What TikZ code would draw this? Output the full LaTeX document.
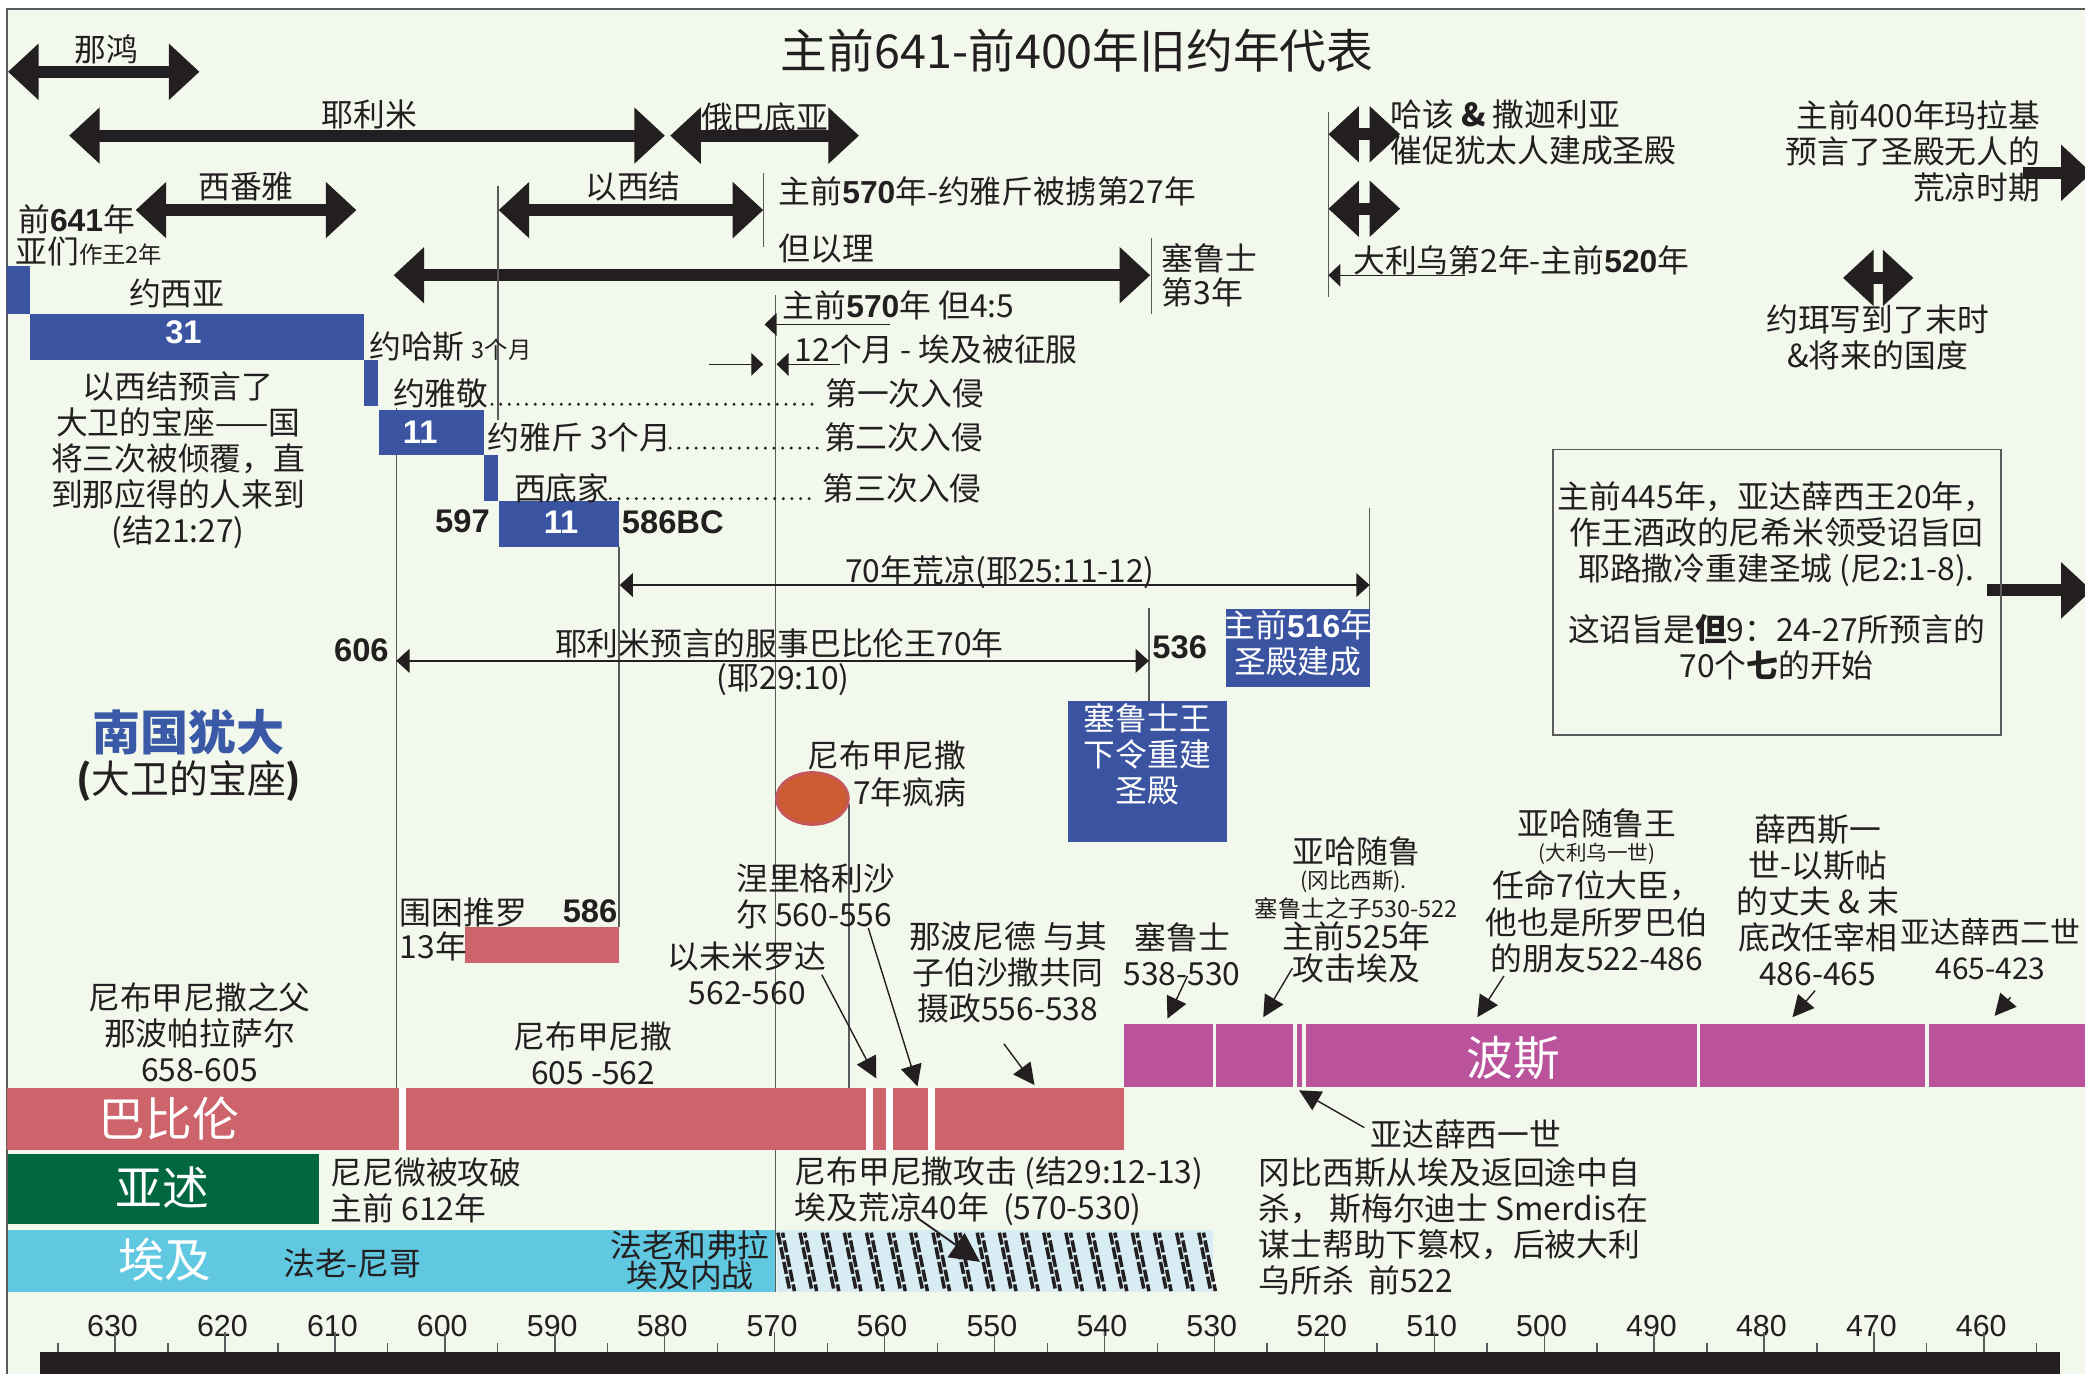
\documentclass[tikz,border=0pt]{standalone}
\usepackage{fontspec}
\setmainfont{Noto Sans CJK SC}
\newfontfamily\numf{Liberation Sans}
\usetikzlibrary{arrows.meta}
\definecolor{bg}{RGB}{243,248,237}
\definecolor{ink}{RGB}{35,31,32}
\definecolor{jblue}{RGB}{58,84,162}
\definecolor{tblue}{RGB}{58,90,168}
\definecolor{babred}{RGB}{205,100,108}
\definecolor{persia}{RGB}{186,82,156}
\definecolor{assyr}{RGB}{0,103,64}
\definecolor{egypt}{RGB}{96,200,224}
\definecolor{hatchbg}{RGB}{216,236,244}
\definecolor{circ}{RGB}{205,92,50}
\definecolor{circb}{RGB}{196,88,92}
\definecolor{rule}{RGB}{90,90,90}
\newcommand\bn[1]{{\numf\bfseries #1}}
\newcommand\fz[2]{\fontsize{#1}{#2}\selectfont}
\begin{document}
\begin{tikzpicture}[x=0.1mm,y=-0.1mm,
  every node/.style={inner sep=0pt,text=ink},
  T/.style={font=\fz{6.8pt}{7.7pt},align=center},
  TL/.style={font=\fz{6.8pt}{7.7pt},align=left},
  TR/.style={font=\fz{6.8pt}{7.7pt},align=right},
  TS/.style={font=\fz{4.6pt}{5.5pt}},
  W/.style={font=\fz{6.8pt}{7.7pt},align=center,text=white},
  BAR/.style={font=\fz{10pt}{11pt},text=white},
  bigarr/.style={draw=ink,line width=0.9mm,{Triangle[length=2.3mm,width=4.1mm]}-{Triangle[length=2.3mm,width=4.1mm]}},
  rarr/.style={draw=ink,line width=0.9mm,-{Triangle[length=2.3mm,width=4.1mm]}},
  sarr/.style={draw=ink,line width=0.3pt,-{Triangle[length=0.9mm,width=1.7mm]}},
  parr/.style={draw=ink,line width=0.3pt,-{Triangle[length=1.6mm,width=1.6mm]}},
  vline/.style={draw=rule,line width=0.3pt},
  leader/.style={draw=ink,line width=0.7pt,line cap=round,dash pattern=on 0pt off 1.85pt},
  tick/.style={draw=rule,line width=0.3pt},
  hatchline/.style={draw=ink,line width=0.75pt,dash pattern=on 2.6pt off 0.6pt}]
\useasboundingbox (0,0) rectangle (1568,1033);
\fill[white] (0,0) rectangle (1568,1033);
\fill[bg] (5,7) rectangle (1568,1033);
\draw[rule,line width=0.4pt] (5,1033) -- (5,7) -- (1568,7);

% title
\node (title) at (810,38) {\fz{10pt}{12pt}主前641-前400年旧约年代表};

% big prophet arrows
\coordinate (nahL) at (6,54);   \coordinate (nahR) at (150,54);
\coordinate (jerL) at (52,102); \coordinate (jerR) at (500,102);
\coordinate (obaL) at (504,102);\coordinate (obaR) at (646,102);
\coordinate (zepL) at (102,158);\coordinate (zepR) at (268,158);
\coordinate (ezeL) at (375,158);\coordinate (ezeR) at (574,158);
\coordinate (danL) at (296,207);\coordinate (danR) at (865,207);
\coordinate (hagL) at (999,101);\coordinate (hagR) at (1053,101);
\coordinate (zecL) at (999,157);\coordinate (zecR) at (1053,157);
\coordinate (joeL) at (1386,209);\coordinate (joeR) at (1439,209);
\coordinate (malS) at (1521,130);\coordinate (malE) at (1573,130);
\coordinate (boxS) at (1494,444);\coordinate (boxE) at (1573,444);
\draw[bigarr] (nahL) -- (nahR);
\draw[bigarr] (jerL) -- (jerR);
\draw[bigarr] (obaL) -- (obaR);
\draw[bigarr] (zepL) -- (zepR);
\draw[bigarr] (ezeL) -- (ezeR);
\draw[bigarr] (danL) -- (danR);
\draw[bigarr] (hagL) -- (hagR);
\draw[bigarr] (zecL) -- (zecR);
\draw[bigarr] (joeL) -- (joeR);
\draw[rarr] (malS) -- (malE);
\draw[rarr] (boxS) -- (boxE);

\node[T] (nah) at (80,37) {那鸿};
\node[T] (jer) at (278,86) {耶利米};
\node[T] (oba) at (575,88) {俄巴底亚};
\node[T] (zep) at (185,140) {西番雅};
\node[T] (eze) at (476,140) {以西结};
\node[T,anchor=west] (dan) at (585,187) {但以理};
\node[T,anchor=west] (jc27) at (585,144) {主前\bn{570}年-约雅斤被掳第27年};
\node[TL,anchor=west,font=\fz{6.8pt}{6pt}] (cy3) at (873,207) {塞鲁士\\第3年};
\node[T,anchor=west] (d45) at (588,230) {主前\bn{570}年 但4:5};
\node[T,anchor=west] (m12) at (597,263) {12个月 - 埃及被征服};

% vertical guide lines
\coordinate (v1a) at (574,130); \coordinate (v1b) at (574,186);
\coordinate (v2a) at (866,179); \coordinate (v2b) at (866,236);
\coordinate (v3a) at (583,222); \coordinate (v3b) at (583,972);
\coordinate (v4a) at (374.5,140); \coordinate (v4b) at (374.5,316);
\coordinate (v5a) at (298,307); \coordinate (v5b) at (298,818);
\coordinate (v6a) at (465.5,411); \coordinate (v6b) at (465.5,697);
\coordinate (v7a) at (1030,382); \coordinate (v7b) at (1030,458);
\coordinate (v8a) at (864,457); \coordinate (v8b) at (864,527);
\coordinate (v9a) at (638.5,605); \coordinate (v9b) at (638.5,818);
\coordinate (v10a) at (999,84); \coordinate (v10b) at (999,223);
\foreach \a/\b in {v1a/v1b,v2a/v2b,v3a/v3b,v4a/v4b,v5a/v5b,v6a/v6b,v7a/v7b,v8a/v8b,v9a/v9b,v10a/v10b}
  \draw[vline] (\a) -- (\b);

% small arrows near 570
\coordinate (d45s) at (669,244); \coordinate (d45t) at (575,244);
\draw[sarr] (d45s) -- (d45t);
\coordinate (m12a) at (533,274); \coordinate (m12b) at (574,274);
\coordinate (m12c) at (632,274); \coordinate (m12d) at (584,274);
\draw[sarr] (m12a) -- (m12b);
\draw[sarr] (m12c) -- (m12d);

% top left
\node[T,anchor=west] (b641) at (13,165) {前\bn{641}年};
\node[T,anchor=west] (amon) at (11,189) {亚们{\fz{5pt}{6pt}作王2年}};

% Judah kings blocks
\fill[jblue] (5,200) rectangle (22.5,236);
\fill[jblue] (22.5,236) rectangle (273.5,270.5);
\fill[jblue] (273.5,270.5) rectangle (284.5,305);
\fill[jblue] (285,308) rectangle (364,342);
\fill[jblue] (364,342) rectangle (374.5,377);
\fill[jblue] (375,377) rectangle (465.5,411);
\node[T] (josiah) at (133,221) {约西亚};
\node[font=\numf\bfseries\fz{7pt}{8pt},text=white] (n31) at (138,250) {31};
\node[font=\numf\bfseries\fz{7pt}{8pt},text=white] (n11a) at (316,325) {11};
\node[font=\numf\bfseries\fz{7pt}{8pt},text=white] (n11b) at (422,393) {11};
\node[T,anchor=west] (jehoahaz) at (277,261) {约哈斯 {\fz{5pt}{6pt}3个月}};
\node[T,anchor=west] (jehoiakim) at (295,296) {约雅敬};
\node[T,anchor=west] (inv1) at (620,296) {第一次入侵};
\node[T,anchor=west] (jehoiachin) at (366,329) {约雅斤 3个月};
\node[T,anchor=west] (inv2) at (619,329) {第二次入侵};
\node[T,anchor=west] (zedekiah) at (386,367) {西底家};
\node[T,anchor=west] (inv3) at (618,367) {第三次入侵};
\draw[leader] (370,304) -- (617,304);
\draw[leader] (504,337) -- (616,337);
\draw[leader] (459,375) -- (615,375);
\node[font=\numf\bfseries\fz{7pt}{8pt},anchor=east] (y597) at (369,392) {597};
\node[font=\numf\bfseries\fz{7pt}{8pt},anchor=west] (y586bc) at (467,393) {586BC};
\node[T] (ezeproph) at (134,346) {以西结预言了\\大卫的宝座——国\\将三次被倾覆，直\\到那应得的人来到\\(结21:27)};

% 70 years
\coordinate (d70a) at (466,440); \coordinate (d70b) at (1030,440);
\draw[draw=ink,line width=0.3pt,{Triangle[length=1mm,width=1.8mm]}-{Triangle[length=1mm,width=1.8mm]}] (d70a) -- (d70b);
\node[T] (d70) at (752,430) {70年荒凉(耶25:11-12)};
\coordinate (s70a) at (298,497); \coordinate (s70b) at (864,497);
\draw[draw=ink,line width=0.3pt,{Triangle[length=1mm,width=1.8mm]}-{Triangle[length=1mm,width=1.8mm]}] (s70a) -- (s70b);
\node[T] (s70) at (586,484) {耶利米预言的服事巴比伦王70年};
\node[T] (s70r) at (589,511) {(耶29:10)};
\node[font=\numf\bfseries\fz{7pt}{8pt},anchor=east] (y606) at (293,489) {606};
\node[font=\numf\bfseries\fz{7pt}{8pt},anchor=west] (y536) at (866,487) {536};

% blue boxes
\fill[jblue] (922,458) rectangle (1030,517);
\node[W] (t516) at (976,484) {主前\bn{516}年\\圣殿建成};
\fill[jblue] (803,527) rectangle (923,633);
\node[W] (cyrus) at (863,567) {塞鲁士王\\下令重建\\圣殿};

% Judah label
\node[font=\bfseries\fz{10.3pt}{11pt},text=tblue] (judah) at (142,551) {南国犹大};
\node[font=\fz{8.3pt}{9pt}] (throne) at (142,587) {\textbf{(}大卫的宝座\textbf{)}};

% Nebuchadnezzar madness
\fill[circ,draw=circb,line width=0.6pt] (611,600.5) ellipse [x radius=27, y radius=19.5];
\node[T] (neb7a) at (667,568) {尼布甲尼撒};
\node[T,anchor=west] (neb7b) at (641,596) {7年疯病};

% siege of Tyre
\fill[babred] (350,697) rectangle (465.5,724);
\node[T,anchor=west] (tyre) at (300,686) {围困推罗};
\node[font=\numf\bfseries\fz{7pt}{8pt},anchor=east] (y586) at (465,685) {586};
\node[T,anchor=west] (tyre13) at (300,712) {13年};

% Babylon kings labels
\node[TL,anchor=west] (nergal) at (553,674) {涅里格利沙\\尔 560-556};
\node[T] (evil) at (562,732) {以未米罗达\\562-560};
\node[T] (nabon) at (758,731) {那波尼德 与其\\子伯沙撒共同\\摄政556-538};
\node[T] (nabopol) at (150,776) {尼布甲尼撒之父\\那波帕拉萨尔\\658-605};
\node[T] (nebu) at (446,792) {尼布甲尼撒\\605 -562};

% Persian kings labels
\node[T] (cyr538) at (889,718) {塞鲁士\\538-530};
\node[T] (camb1) at (1020,640) {亚哈随鲁};
\node[TS] (camb2) at (1018,663) {(冈比西斯).};
\node[font=\fz{5pt}{6pt}] (camb3) at (1020,683) {塞鲁士之子530-522};
\node[T] (camb4) at (1020,704) {主前525年};
\node[T] (camb5) at (1020,728) {攻击埃及};
\node[T] (dar1) at (1201,619) {亚哈随鲁王};
\node[font=\fz{4.4pt}{5pt}] (dar2) at (1201,642) {(大利乌一世)};
\node[T] (dar3) at (1201,666) {任命7位大臣，};
\node[T] (dar4) at (1201,694) {他也是所罗巴伯};
\node[T] (dar5) at (1201,721) {的朋友522-486};
\node[T] (xerx) at (1367,677) {薛西斯一\\世-以斯帖\\的丈夫 \& 末\\底改任宰相\\486-465};
\node[font=\fz{6.4pt}{7.7pt},align=center] (art2) at (1497,714) {亚达薛西二世\\465-423};
\node[T,anchor=west] (art1) at (1030,853) {亚达薛西一世};
\node[TL,anchor=west] (smerd) at (946,922) {冈比西斯从埃及返回途中自\\杀， 斯梅尔迪士 Smerdis在\\谋士帮助下篡权，后被大利\\乌所杀\ \ 前522};

% pointer arrows
\coordinate (pa1) at (618,733); \coordinate (pb1) at (659,811);
\coordinate (pa2) at (653,698); \coordinate (pb2) at (690,817);
\coordinate (pa3) at (755,785); \coordinate (pb3) at (778,816);
\coordinate (pa4) at (893,734); \coordinate (pb4) at (878,766);
\coordinate (pa5) at (972,728); \coordinate (pb5) at (950,765);
\coordinate (pa6) at (1131,734);\coordinate (pb6) at (1111,765);
\coordinate (pa7) at (1365,745);\coordinate (pb7) at (1348,765);
\coordinate (pa8) at (1512,750);\coordinate (pb8) at (1500,764);
\coordinate (pa9) at (1026,848);\coordinate (pb9) at (977,820);
\foreach \a/\b in {pa1/pb1,pa2/pb2,pa3/pb3,pa4/pb4,pa5/pb5,pa6/pb6,pa7/pb7,pa8/pb8,pa9/pb9}
  \draw[parr] (\a) -- (\b);

% empire bars
\fill[babred] (5,818) rectangle (845,865);
\foreach \g in {300,651,666,698} \fill[white] (\g,818) rectangle ++(5.5,47);
\fill[persia] (845,770) rectangle (1568,817.5);
\foreach \g in {912,972.5,979.5,1276,1448} \fill[bg] (\g,770) rectangle ++(2.8,47.5);
\node[BAR] (babylon) at (127,841) {巴比伦};
\node[BAR] (persiaL) at (1138,796) {波斯};
\fill[assyr] (6,867.5) rectangle (240,920.5);
\node[BAR] (assyria) at (122,893) {亚述};
\node[TL,anchor=west] (nineveh) at (248,895) {尼尼微被攻破\\主前 612年};
\fill[egypt] (6,925) rectangle (583,972);
\node[BAR] (egyptL) at (124,947) {埃及};
\node[T] (necho) at (265,950) {法老-尼哥};
\node[T,font=\fz{6.8pt}{6.5pt}] (hophra) at (519,948) {法老和弗拉\\埃及内战};
\fill[hatchbg] (584,925) rectangle (912,972);
\foreach \i in {0,...,19} {
  \pgfmathsetmacro\hx{585+16.66*\i}
  \draw[hatchline] (\hx,927) -- ++(9,44);
  \draw[hatchline,dash phase=1.5pt] (\hx+3.5,927) -- ++(9,44);
}
\node[TL,anchor=west] (eg40) at (597,896) {尼布甲尼撒攻击 (结29:12-13)\\埃及荒凉40年\ \ (570-530)};
\coordinate (ha) at (690,916); \coordinate (hb) at (737,949);
\draw[draw=ink,line width=0.4pt,-{Triangle[length=2.2mm,width=2.2mm]}] (ha) -- (hb);

% right upper texts
\node[T,anchor=west] (hag1) at (1045,86) {哈该 {\bfseries\&} 撒迦利亚};
\node[T,anchor=west] (hag2) at (1045,113) {催促犹太人建成圣殿};
\node[T,anchor=west] (dar520) at (1017,196) {大利乌第2年-主前\bn{520}年};
\coordinate (u520a) at (1102,207); \coordinate (u520b) at (999,207);
\draw[sarr] (u520a) -- (u520b);
\node[TR,anchor=east] (mal) at (1535,114) {主前400年玛拉基\\预言了圣殿无人的\\荒凉时期};
\node[T] (joel) at (1412,254) {约珥写到了末时\\\&将来的国度};

% Nehemiah box
\draw[draw=rule,line width=0.4pt] (1168,338) rectangle (1505,553);
\node[T] (neh1) at (1336,402) {主前445年，亚达薛西王20年，\\作王酒政的尼希米领受诏旨回\\耶路撒冷重建圣城 (尼2:1-8).};
\node[T] (neh2) at (1336,487) {这诏旨是{\bfseries 但}9：24-27所预言的\\70个{\bfseries 七}的开始};

% axis
\fill[ink] (30,1017) rectangle (1549,1040);
\foreach \i in {0,...,18} {
  \pgfmathsetmacro\mx{43.6+82.67*\i}
  \draw[tick] (\mx,1010) -- (\mx,1017);
}
\foreach \i in {0,...,17} {
  \pgfmathsetmacro\xx{86.6+82.67*\i}
  \pgfmathtruncatemacro\yr{630-10*\i}
  \node[font=\numf\fz{6.5pt}{7pt}] (yr\i) at (\xx-2,997) {\yr};
  \draw[tick] (\xx,1002) -- (\xx,1017);
}
\end{tikzpicture}
\end{document}
